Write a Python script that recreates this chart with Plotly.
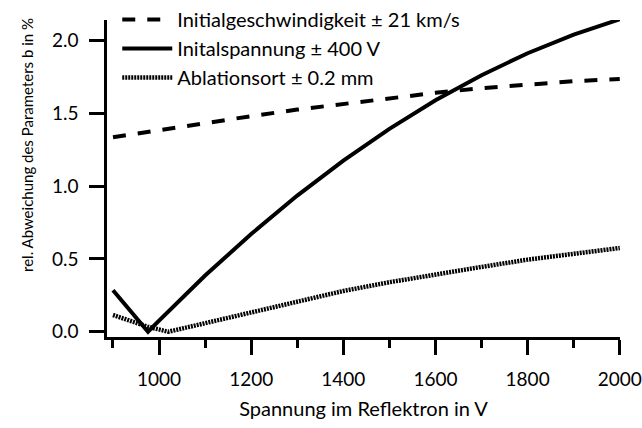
import plotly.graph_objects as go

# Initialgeschwindigkeit ± 21 km/s (dashed)
vel_x = [900, 1000, 1100, 1200, 1300, 1400, 1500, 1600, 1700, 1800, 1900, 2000]
vel_y = [1.335, 1.385, 1.435, 1.48, 1.525, 1.565, 1.605, 1.64, 1.672, 1.698, 1.72, 1.735]

# Initalspannung ± 400 V (solid)
volt_x = [900, 976, 1000, 1100, 1200, 1300, 1400, 1500, 1600, 1700, 1800, 1900, 2000]
volt_y = [0.285, 0.0, 0.077, 0.386, 0.671, 0.935, 1.175, 1.393, 1.589, 1.761, 1.912, 2.04, 2.145]

# Ablationsort ± 0.2 mm (dotted)
abl_x = [900, 975, 1020, 1100, 1200, 1300, 1400, 1500, 1600, 1700, 1800, 1900, 2000]
abl_y = [0.115, 0.035, 0.0, 0.06, 0.135, 0.21, 0.28, 0.34, 0.395, 0.445, 0.495, 0.535, 0.575]

names = ["Initialgeschwindigkeit ± 21 km/s", "Initalspannung ± 400 V", "Ablationsort ± 0.2 mm"]

FONT = "Lato"

fig = go.Figure()
fig.add_trace(go.Scatter(x=vel_x, y=vel_y, mode="lines", name=names[0], legendgroup="a",
                         line=dict(color="black", width=4, dash="13px,12px")))
fig.add_trace(go.Scatter(x=volt_x, y=volt_y, mode="lines", name=names[1], legendgroup="b",
                         line=dict(color="black", width=4)))
fig.add_trace(go.Scatter(x=abl_x, y=abl_y, mode="lines", name=names[2], legendgroup="c",
                         line=dict(color="black", width=4.5, dash="2px,1px")))

axis_common = dict(showline=True, linecolor="black", linewidth=2.5, ticks="outside",
                   tickcolor="black", tickwidth=2.5, ticklen=15, showgrid=False,
                   zeroline=False, automargin=False,
                   tickfont=dict(family=FONT, size=19, color="black"))

fig.update_layout(
    width=642, height=428,
    margin=dict(l=107, r=22, t=0, b=91),
    paper_bgcolor="white", plot_bgcolor="white",
    font=dict(family=FONT, size=19, color="black"),
    showlegend=True,
    legend=dict(x=0.02, y=1.0, xanchor="left", yanchor="top",
                bgcolor="rgba(0,0,0,0)",
                font=dict(family=FONT, size=20), itemwidth=50, tracegroupgap=0,
                traceorder="grouped"),
    xaxis=dict(range=[887, 2000.5], dtick=200, tick0=0, ticklabelstandoff=8,
               minor=dict(dtick=100, tick0=0, ticks="outside", ticklen=8, tickwidth=2.5,
                          tickcolor="black"),
               title=dict(text="Spannung im Reflektron in V", font=dict(family=FONT, size=20),
                          standoff=14),
               **axis_common),
    yaxis=dict(range=[-0.036, 2.14], dtick=0.5, tick0=0, tickformat=".1f",
               domain=[0, 317 / 337], ticklabelstandoff=7, **axis_common),
    annotations=[dict(text="rel. Abweichung des Parameters b in %", textangle=-90,
                      xref="paper", yref="paper", x=-0.156, y=0.5697,
                      xanchor="center", yanchor="middle", showarrow=False,
                      font=dict(family=FONT, size=15, color="black"))],
)

fig.write_html("out.html")
